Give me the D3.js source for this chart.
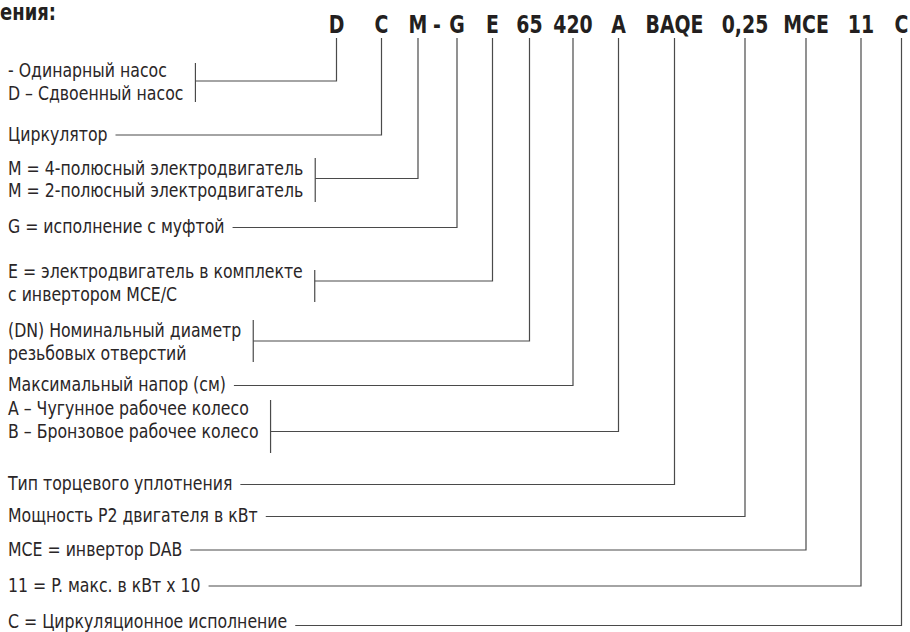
<!DOCTYPE html>
<html>
<head>
<meta charset="utf-8">
<script src="https://cdn.jsdelivr.net/npm/d3@7"></script>
<style>
    body { margin: 0; background: #fff; }
    .label { font-family: "DejaVu Sans Condensed", "DejaVu Sans", sans-serif; font-size: 17.5px; fill: #2a2627; }
    .code { font-family: "DejaVu Sans Condensed", "DejaVu Sans", sans-serif; font-size: 21px; font-weight: bold; fill: #231f20; }
    .title { font-family: "DejaVu Sans Condensed", "DejaVu Sans", sans-serif; font-size: 20px; font-weight: bold; fill: #231f20; }
    .leader { fill: none; stroke: #4a4a4a; stroke-width: 1.2; }
</style>
</head>
<body>
<svg id="chart" width="910" height="632"></svg>
<script>
// code letters along the top and where each one sits
const codes = ["D", "C", "M", "-", "G", "E", "65", "420", "A", "BAQE", "0,25", "MCE", "11", "C"];
const codeX = [336.5, 381.5, 418, 437, 457, 492.5, 529.5, 573, 618.5, 674.5, 745, 806, 861, 901.5];

// one entry per explanation, top to bottom
const labelLines = [
    ["- Одинарный насос", "D – Сдвоенный насос"],
    ["Циркулятор"],
    ["M = 4-полюсный электродвигатель", "M = 2-полюсный электродвигатель"],
    ["G = исполнение с муфтой"],
    ["E = электродвигатель в комплекте", "с инвертором MCE/C"],
    ["(DN) Номинальный диаметр", "резьбовых отверстий"],
    ["Максимальный напор (см)"],
    ["A – Чугунное рабочее колесо", "B – Бронзовое рабочее колесо"],
    ["Тип торцевого уплотнения"],
    ["Мощность P2 двигателя в кВт"],
    ["MCE = инвертор DAB"],
    ["11 = P. макс. в кВт x 10"],
    ["C = Циркуляционное исполнение"]
];
const labelCode = [0, 1, 2, 4, 5, 6, 7, 8, 9, 10, 11, 12, 13];
const labelBaseline = [77, 141, 174.5, 233, 278, 337, 391, 415, 490, 522, 555.5, 591.5, 627.5];
const leaderY = [81, 135, 178.5, 227.5, 281, 341, 385.5, 431.5, 484.5, 516.5, 550, 586, 625.5];
const bracketSpan = [[63, 102], null, [158, 202], null, [270, 302], [320, 362], null, [400, 453], null, null, null, null, null];

class CodeDiagram {

    constructor(svgId) {
        this.svg = d3.select(svgId);
        this.width = +this.svg.attr("width");
        this.height = +this.svg.attr("height");
        this.x = d3.scaleLinear().domain([0, 910]).range([0, this.width]);
        this.y = d3.scaleLinear().domain([0, 632]).range([0, this.height]);
        this.lineGap = 22.5;
        this.codeBase = 33;
        this.codeBottom = 38;
    }

    drawTitle() {
        this.svg.append("text")
            .classed("title", true)
            .attr("transform", "translate(0," + this.y(20) + ") scale(1,1.15)")
            .text("ения:");
    }

    drawCodes() {
        let that = this;
        this.svg.selectAll(".code")
            .data(codes)
            .enter()
            .append("text")
            .classed("code", true)
            .attr("text-anchor", "middle")
            .attr("transform", (d, i) => "translate(" + that.x(codeX[i]) + "," + that.y(that.codeBase) + ") scale(1,1.2)")
            .text(d => d);
    }

    drawLabels() {
        let that = this;
        let rows = labelLines.map((lines, i) => ({
            lines: lines,
            base: labelBaseline[i],
            leader: leaderY[i],
            bracket: bracketSpan[i],
            cx: codeX[labelCode[i]]
        }));

        let groups = this.svg.selectAll(".row")
            .data(rows)
            .enter()
            .append("g")
            .classed("row", true);

        groups.each(function(row) {
            let g = d3.select(this);
            let widest = 0;
            row.lines.forEach((line, k) => {
                let t = g.append("text")
                    .classed("label", true)
                    .attr("transform", "translate(" + that.x(8) + "," + that.y(row.base + k * that.lineGap) + ") scale(1,1.1)")
                    .text(line);
                widest = Math.max(widest, t.node().getComputedTextLength());
            });

            let startX = that.x(8) + widest + (row.bracket ? 12 : 8);
            if (row.bracket) {
                g.append("line")
                    .classed("leader", true)
                    .attr("x1", startX).attr("x2", startX)
                    .attr("y1", that.y(row.bracket[0]))
                    .attr("y2", that.y(row.bracket[1]));
            }

            let path = d3.path();
            path.moveTo(startX, that.y(row.leader));
            path.lineTo(that.x(row.cx), that.y(row.leader));
            path.lineTo(that.x(row.cx), that.y(that.codeBottom));
            g.append("path")
                .classed("leader", true)
                .attr("d", path.toString());
        });
    }

    draw() {
        this.drawTitle();
        this.drawCodes();
        this.drawLabels();
    }
}

let diagram = new CodeDiagram("#chart");
diagram.draw();
</script>
</body>
</html>
